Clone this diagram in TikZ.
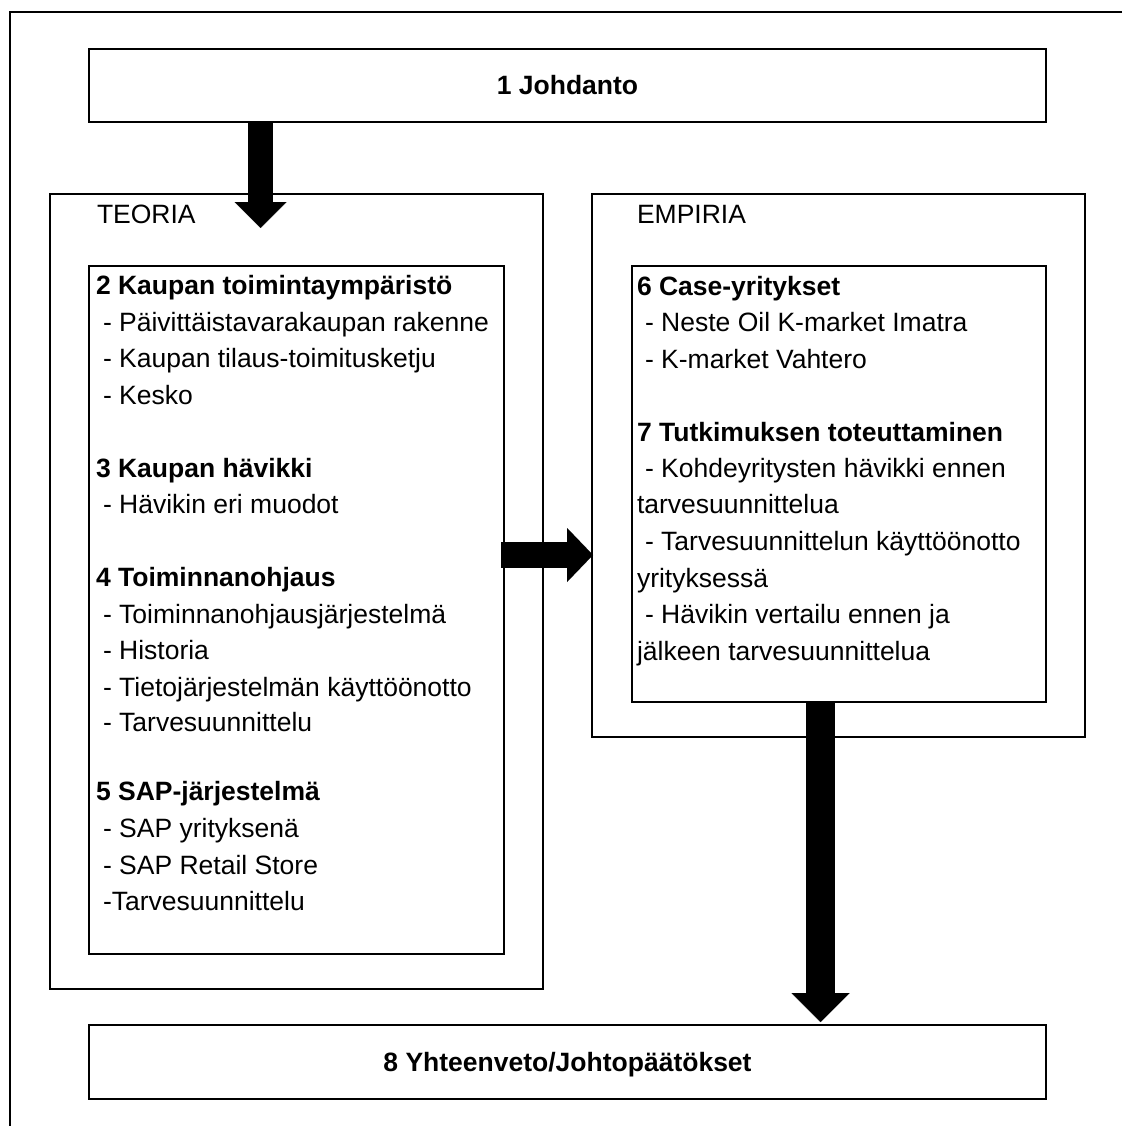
\documentclass[tikz,border=0pt]{standalone}
\usepackage{fontspec}
\setmainfont{Liberation Sans}
\usetikzlibrary{arrows.meta,calc}
\begin{document}
\begin{tikzpicture}[x=1pt,y=-1pt,
  frame/.style={draw=black,line width=2.2pt,inner sep=0pt,outer sep=0pt,anchor=north west},
  txt/.style={anchor=base west,inner sep=0pt,outer sep=0pt,font=\fontsize{26.5}{30}\selectfont},
  head/.style={txt,font=\fontsize{26.5}{30}\selectfont\bfseries},
  title/.style={anchor=base,inner sep=0pt,outer sep=0pt,font=\fontsize{26.5}{30}\selectfont\bfseries},
  blockarrow/.style n args={3}{draw=black,line width=#1,
    -{Triangle[width=#2,length=#3,line width=0.01pt]}}
]
\useasboundingbox (0,0) rectangle (1122,1126);
% page frame, open to the right and bottom
\draw[line width=2.2pt] (1122,12) -- (10,12) -- (10,1126);

% boxes
\node[frame,minimum width=957pt,minimum height=73pt] (j)   at (89,49)  {};
\node[frame,minimum width=493pt,minimum height=795pt] (teo) at (50,194) {};
\node[frame,minimum width=415pt,minimum height=688pt] (tin) at (89,266) {};
\node[frame,minimum width=493pt,minimum height=543pt] (emp) at (592,194) {};
\node[frame,minimum width=414pt,minimum height=436pt] (ein) at (632,266) {};
\node[frame,minimum width=957pt,minimum height=74pt] (yht) at (89,1025) {};

% titles
\node[title] (jt) at ($(j.north)+(0,46)$) {1 Johdanto};
\node[title] (yt) at ($(yht.north)+(0,46.5)$) {8 Yhteenveto/Johtopäätökset};

% group labels
\node[txt] (teol) at (97,223) {TEORIA};
\node[txt] (empl) at (637,223) {EMPIRIA};

% theory contents
\node[head] (t1)  at (96,294)   {2 Kaupan toimintaympäristö};
\node[txt]  (t2)  at (103,331)  {- Päivittäistavarakaupan rakenne};
\node[txt]  (t3)  at (103,367.5){- Kaupan tilaus-toimitusketju};
\node[txt]  (t4)  at (103,404)  {- Kesko};
\node[head] (t5)  at (96,477)   {3 Kaupan hävikki};
\node[txt]  (t6)  at (103,513)  {- Hävikin eri muodot};
\node[head] (t7)  at (96,586)   {4 Toiminnanohjaus};
\node[txt]  (t8)  at (103,623)  {- Toiminnanohjausjärjestelmä};
\node[txt]  (t9)  at (103,659.5){- Historia};
\node[txt]  (t10) at (103,696)  {- Tietojärjestelmän käyttöönotto};
\node[txt]  (t11) at (103,731.5){- Tarvesuunnittelu};
\node[head] (t12) at (96,800.5) {5 SAP-järjestelmä};
\node[txt]  (t13) at (103,837.5){- SAP yrityksenä};
\node[txt]  (t14) at (103,874)  {- SAP Retail Store};
\node[txt]  (t15) at (103,910)  {-Tarvesuunnittelu};

% empirical contents
\node[head] (e1)  at (637,295)  {6 Case-yritykset};
\node[txt]  (e2)  at (645,331.5){- Neste Oil K-market Imatra};
\node[txt]  (e3)  at (645,368)  {- K-market Vahtero};
\node[head] (e4)  at (637,441)  {7 Tutkimuksen toteuttaminen};
\node[txt]  (e5)  at (645,477)  {- Kohdeyritysten hävikki ennen};
\node[txt]  (e6)  at (637,513.5){tarvesuunnittelua};
\node[txt]  (e7)  at (645,550)  {- Tarvesuunnittelun käyttöönotto};
\node[txt]  (e8)  at (637,587)  {yrityksessä};
\node[txt]  (e9)  at (645,623.5){- Hävikin vertailu ennen ja};
\node[txt]  (e10) at (637,660)  {jälkeen tarvesuunnittelua};

% block arrows
\coordinate (a1s) at ($(j.south west)+(171.5,0)$);
\coordinate (a1e) at ($(teo.north west)+(210.5,34)$);
\draw[blockarrow={25pt}{52pt}{26pt}] (a1s) -- (a1e);

\coordinate (a2s) at ($(tin.north east)+(-3,289)$);
\coordinate (a2e) at ($(emp.north west)+(1,361)$);
\draw[blockarrow={26pt}{54pt}{26pt}] (a2s) -- (a2e);

\coordinate (a3s) at ($(ein.south west)+(188.5,0)$);
\coordinate (a3e) at ($(yht.north west)+(731.5,-3)$);
\draw[blockarrow={29pt}{58pt}{29pt}] (a3s) -- (a3e);
\end{tikzpicture}
\end{document}
